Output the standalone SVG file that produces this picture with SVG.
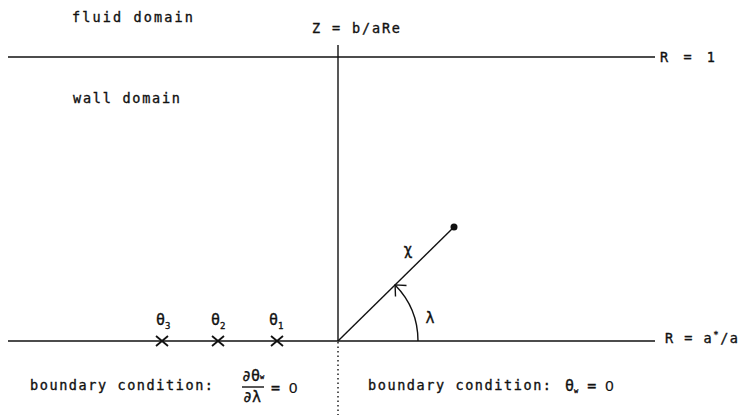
<svg xmlns="http://www.w3.org/2000/svg" width="740" height="415" viewBox="0 0 740 415">
<style>
.ln{stroke:#111;stroke-width:1.4;fill:none}
.dot{stroke:#111;stroke-width:1.4;fill:none;stroke-dasharray:1.5 3}
.t{font-family:"DejaVu Sans Mono","Liberation Mono",monospace;font-size:13.5px;fill:#111;stroke:#111;stroke-width:0.35}
.b{font-size:15px}
.s{font-family:"DejaVu Sans Mono","Liberation Mono",monospace;font-size:9px;fill:#111}
.w{font-size:7px}
.z{font-family:"Liberation Sans","DejaVu Sans",sans-serif;font-size:15px;stroke-width:0.2}
.xm{stroke:#111;stroke-width:1.8}
</style>
<defs>
<g id="cross"><line class="xm" x1="-6" y1="-5" x2="6" y2="5"/><line class="xm" x1="-6" y1="5" x2="6" y2="-5"/></g>
</defs>
<rect width="740" height="415" fill="#fff"/>
<g id="connectors">
<line class="ln" x1="8" y1="57" x2="655" y2="57"/>
<line class="ln" x1="8" y1="341" x2="655" y2="341"/>
<line class="ln" x1="338" y1="45" x2="338" y2="341"/>
<line class="dot" x1="338" y1="342" x2="338" y2="415"/>
<line class="ln" x1="338" y1="341" x2="454" y2="227"/>
<path class="ln" d="M418,341 A80,80 0 0 0 395.1,284.9"/>
<path class="ln" d="M406.5,285.5 L395.1,284.9 L395.5,296.5"/>
</g>
<g id="labels-top">
<text class="t" x="72" y="22" textLength="121" lengthAdjust="spacing">fluid domain</text>
<text class="t" x="312" y="33" textLength="88" lengthAdjust="spacing">Z = b/aRe</text>
<text class="t" x="660" y="62" textLength="55" lengthAdjust="spacing">R = 1</text>
<text class="t" x="73" y="103" textLength="107" lengthAdjust="spacing">wall domain</text>
</g>
<g id="node-point">
<circle cx="454" cy="227" r="3.5" fill="#111"/>
<text class="t b" x="408" y="255" text-anchor="middle">χ</text>
<text class="t b" x="430" y="323" text-anchor="middle">λ</text>
</g>
<g id="node-inner-wall">
<text class="t" x="665" y="343" textLength="73" lengthAdjust="spacing">R = a<tspan class="s" dy="-5">*</tspan><tspan dy="5">/a</tspan></text>
</g>
<g id="node-theta3">
<use href="#cross" x="162" y="341"/>
<text class="t b" x="156" y="325">θ<tspan class="s" dy="4">3</tspan></text>
</g>
<g id="node-theta2">
<use href="#cross" x="218" y="341"/>
<text class="t b" x="211" y="325">θ<tspan class="s" dy="4">2</tspan></text>
</g>
<g id="node-theta1">
<use href="#cross" x="277" y="341"/>
<text class="t b" x="269" y="325">θ<tspan class="s" dy="4">1</tspan></text>
</g>
<g id="bc-left">
<text class="t" x="30" y="390" textLength="183" lengthAdjust="spacing">boundary condition:</text>
<text class="t b" x="242" y="381">∂θ<tspan class="s w" dy="-2">w</tspan></text>
<line class="ln" x1="242" y1="387" x2="264" y2="387"/>
<text class="t b" x="243" y="402">∂λ</text>
<text class="t b" x="271" y="393">= <tspan class="z">0</tspan></text>
</g>
<g id="bc-right">
<text class="t" x="368" y="390" textLength="183" lengthAdjust="spacing">boundary condition:</text>
<text class="t b" x="565" y="391">θ<tspan class="s w" dy="2">w</tspan><tspan dy="-2"> = </tspan><tspan class="z">0</tspan></text>
</g>
</svg>
